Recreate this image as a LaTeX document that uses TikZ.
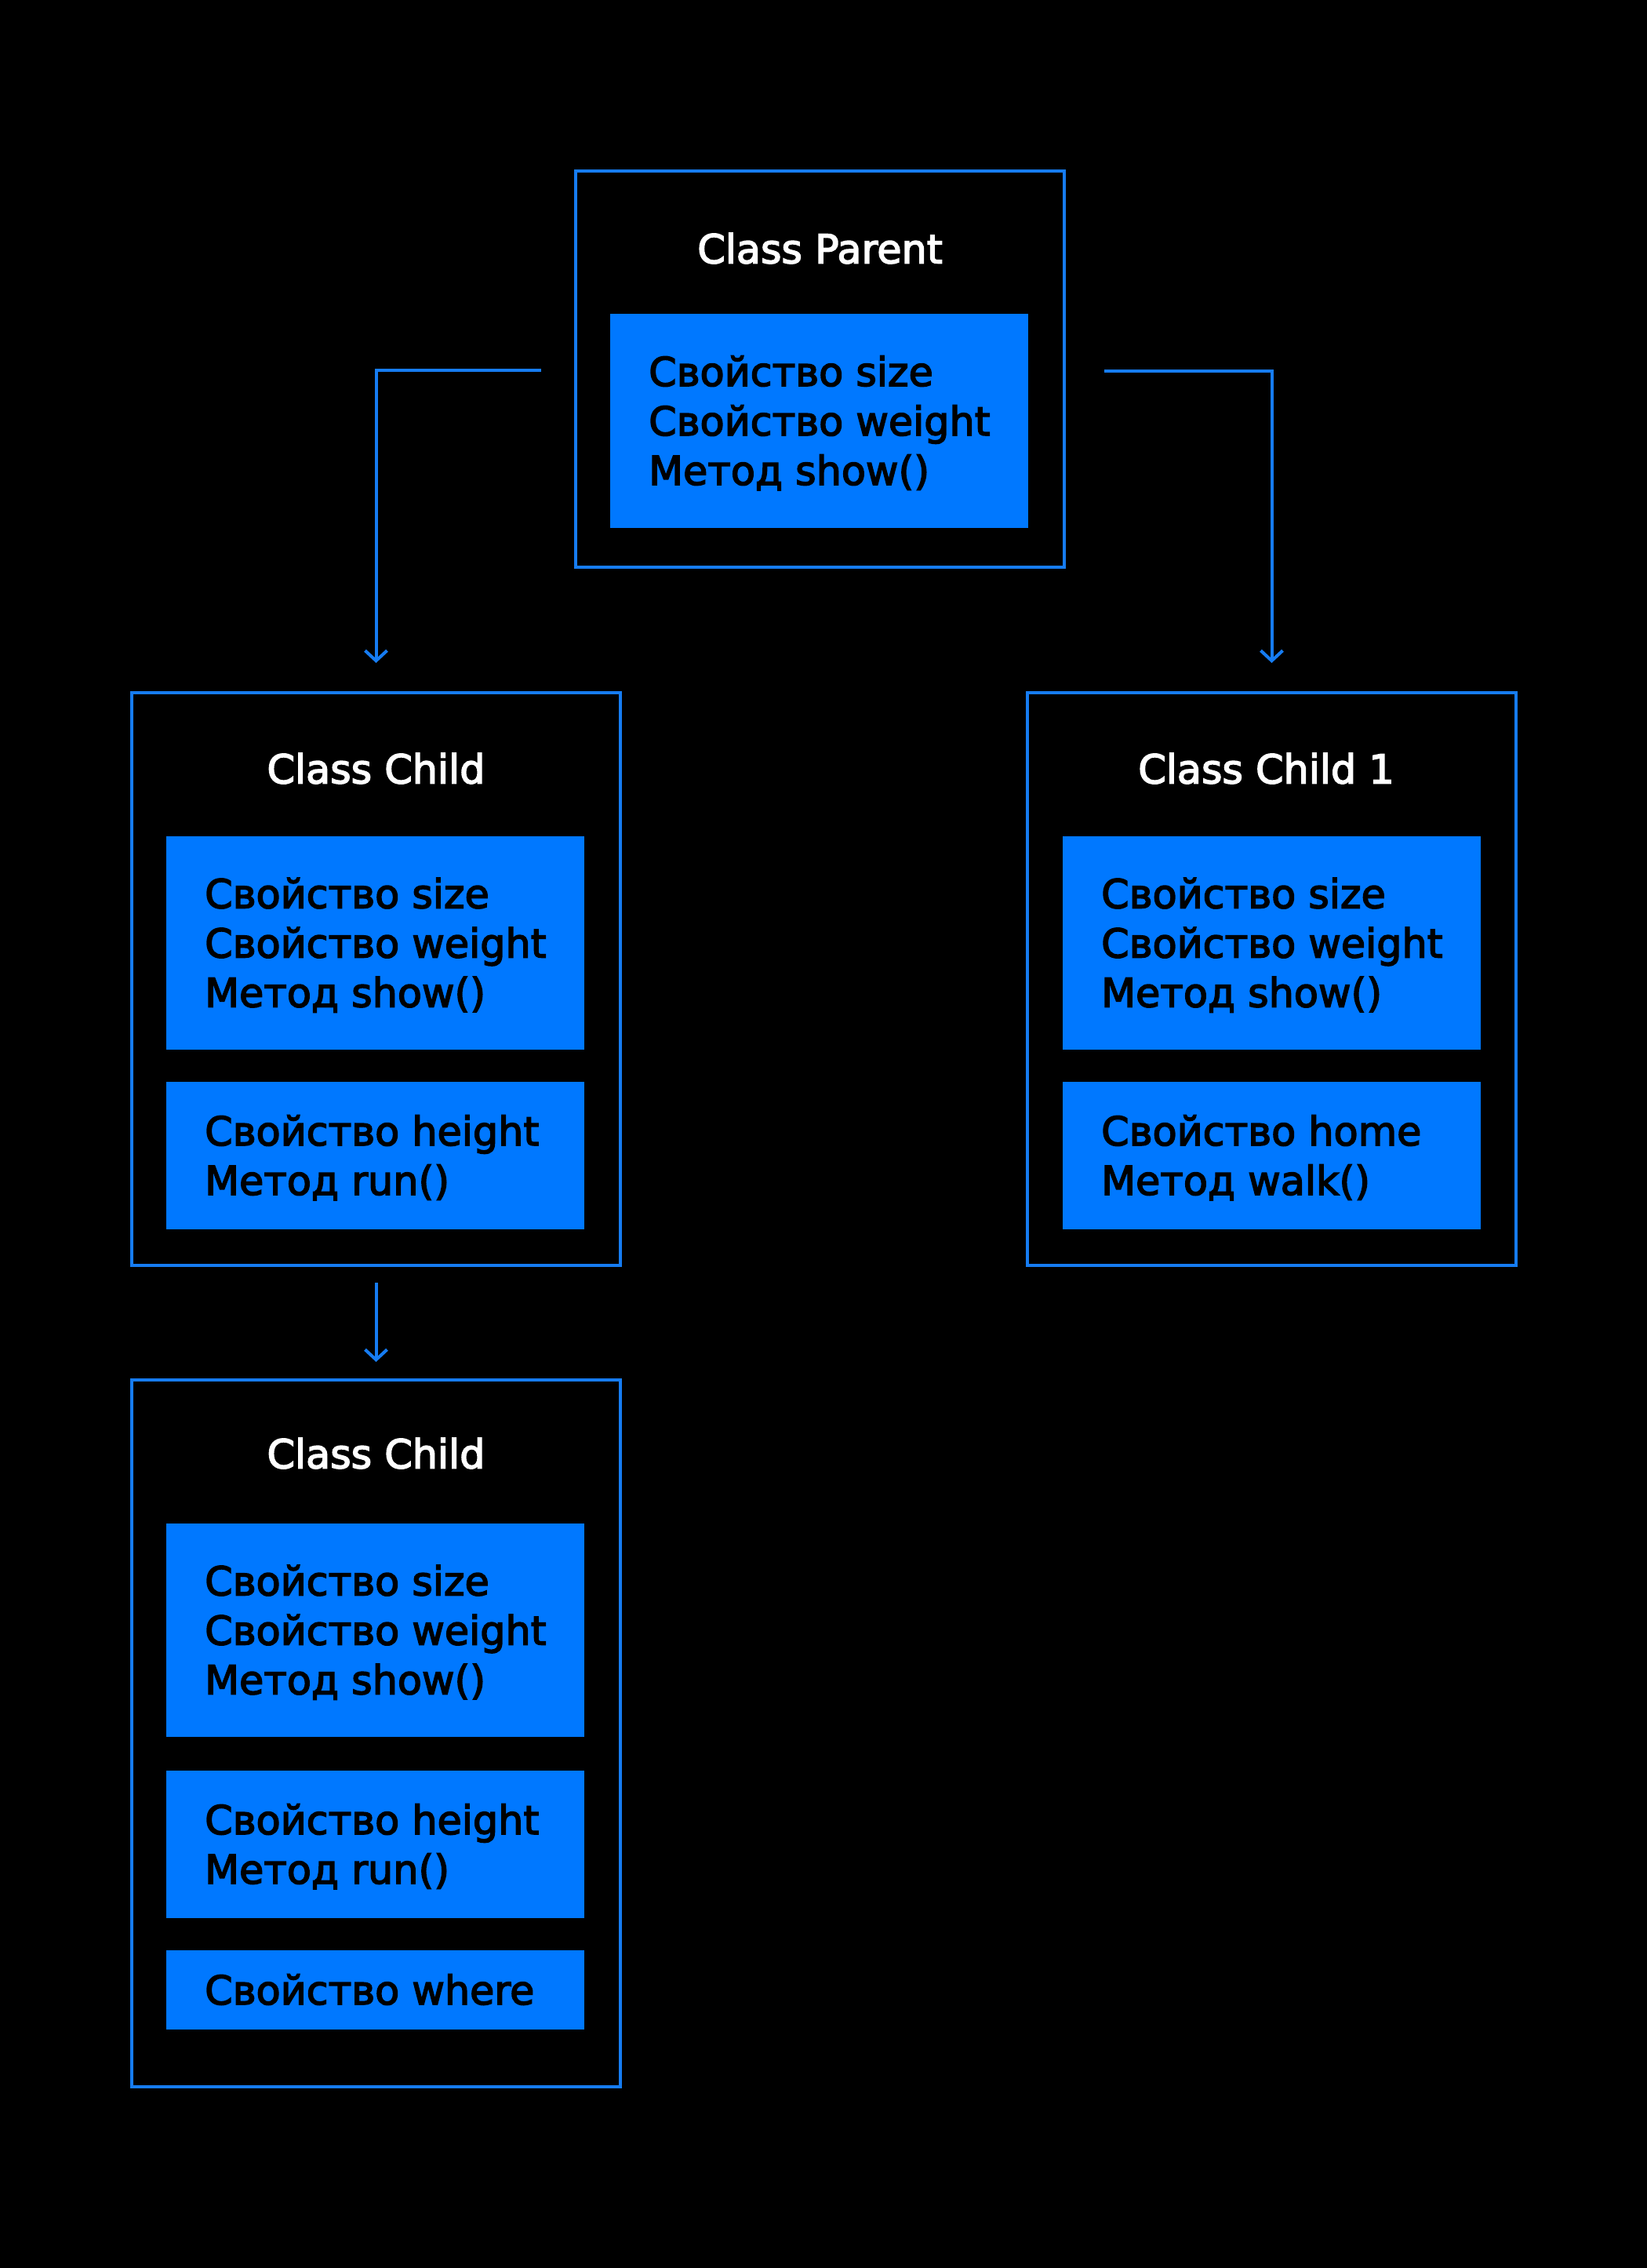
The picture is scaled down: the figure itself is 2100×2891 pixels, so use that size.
\documentclass[tikz,border=0pt]{standalone}
\usepackage{fontspec}
\setmainfont{DejaVu Sans}[BoldFont={DejaVu Sans}, BoldFeatures={FakeBold=3}]
\usetikzlibrary{arrows.meta}
\definecolor{cblue}{RGB}{0,120,255}
\definecolor{cline}{RGB}{22,124,242}
\newcommand\tstrut{\rule[-13pt]{0pt}{63pt}}
\begin{document}
\begin{tikzpicture}[x=1pt,y=-1pt,
  outerbox/.style={draw=cline, line width=4pt, minimum width=623pt, inner sep=0pt, outer sep=0pt},
  innerbox/.style={fill=cblue, minimum width=533pt, inner sep=0pt, outer sep=0pt},
  txt/.style={anchor=west, inner sep=0pt, align=left, text=black, font=\fontsize{50.8pt}{63pt}\selectfont\bfseries},
  ttl/.style={inner sep=0pt, text=white, font=\fontsize{50.8pt}{63pt}\selectfont\bfseries},
  conn/.style={draw=cline, line width=4pt, -{Straight Barb[length=13pt,width=28pt]}}
]
\fill[black] (0,0) rectangle (2100,2891);

% Parent
\node[outerbox, minimum height=505pt] (P) at (1045.5,470.5) {};
\node[ttl] (Pt) at ([yshift=-99pt]P.north) {\tstrut Class Parent};
\node[innerbox, minimum height=273pt] (PA) at (1044.5,536.5) {};
\node[txt] (PAt) at ([xshift=49pt]PA.west) {\tstrut Свойство size\\\tstrut Свойство weight\\\tstrut Метод show()};

% Child
\node[outerbox, minimum height=730pt] (C) at (479.5,1248) {};
\node[ttl] (Ct) at ([yshift=-97pt]C.north) {\tstrut Class Child};
\node[innerbox, minimum height=272pt] (CA) at (478.5,1202) {};
\node[txt] (CAt) at ([xshift=49pt]CA.west) {\tstrut Свойство size\\\tstrut Свойство weight\\\tstrut Метод show()};
\node[innerbox, minimum height=188pt] (CB) at (478.5,1473) {};
\node[txt] (CBt) at ([xshift=49pt]CB.west) {\tstrut Свойство height\\\tstrut Метод run()};

% Child 1
\node[outerbox, minimum height=730pt] (D) at (1621.5,1248) {};
\node[ttl] (Dt) at ([xshift=-7pt,yshift=-97pt]D.north) {\tstrut Class Child 1};
\node[innerbox, minimum height=272pt] (DA) at (1621.5,1202) {};
\node[txt] (DAt) at ([xshift=49pt]DA.west) {\tstrut Свойство size\\\tstrut Свойство weight\\\tstrut Метод show()};
\node[innerbox, minimum height=188pt] (DB) at (1621.5,1473) {};
\node[txt] (DBt) at ([xshift=49pt]DB.west) {\tstrut Свойство home\\\tstrut Метод walk()};

% Grandchild
\node[outerbox, minimum height=901pt] (G) at (479.5,2209.5) {};
\node[ttl] (Gt) at ([yshift=-94pt]G.north) {\tstrut Class Child};
\node[innerbox, minimum height=272pt] (GA) at (478.5,2078) {};
\node[txt] (GAt) at ([xshift=49pt]GA.west) {\tstrut Свойство size\\\tstrut Свойство weight\\\tstrut Метод show()};
\node[innerbox, minimum height=188pt] (GB) at (478.5,2351) {};
\node[txt] (GBt) at ([xshift=49pt]GB.west) {\tstrut Свойство height\\\tstrut Метод run()};
\node[innerbox, minimum height=101pt] (GC) at (478.5,2536.5) {};
\node[txt] (GCt) at ([xshift=49pt]GC.west) {\tstrut Свойство where};

% Connectors
\coordinate (Ls) at (690,472);
\coordinate (Rs) at (1408,473);
\draw[conn] (Ls) -| ([yshift=38pt]C.north);
\draw[conn] (Rs) -| ([yshift=38pt]D.north);
\draw[conn] ([yshift=-22pt]C.south) -- ([yshift=23pt]G.north);
\end{tikzpicture}
\end{document}
